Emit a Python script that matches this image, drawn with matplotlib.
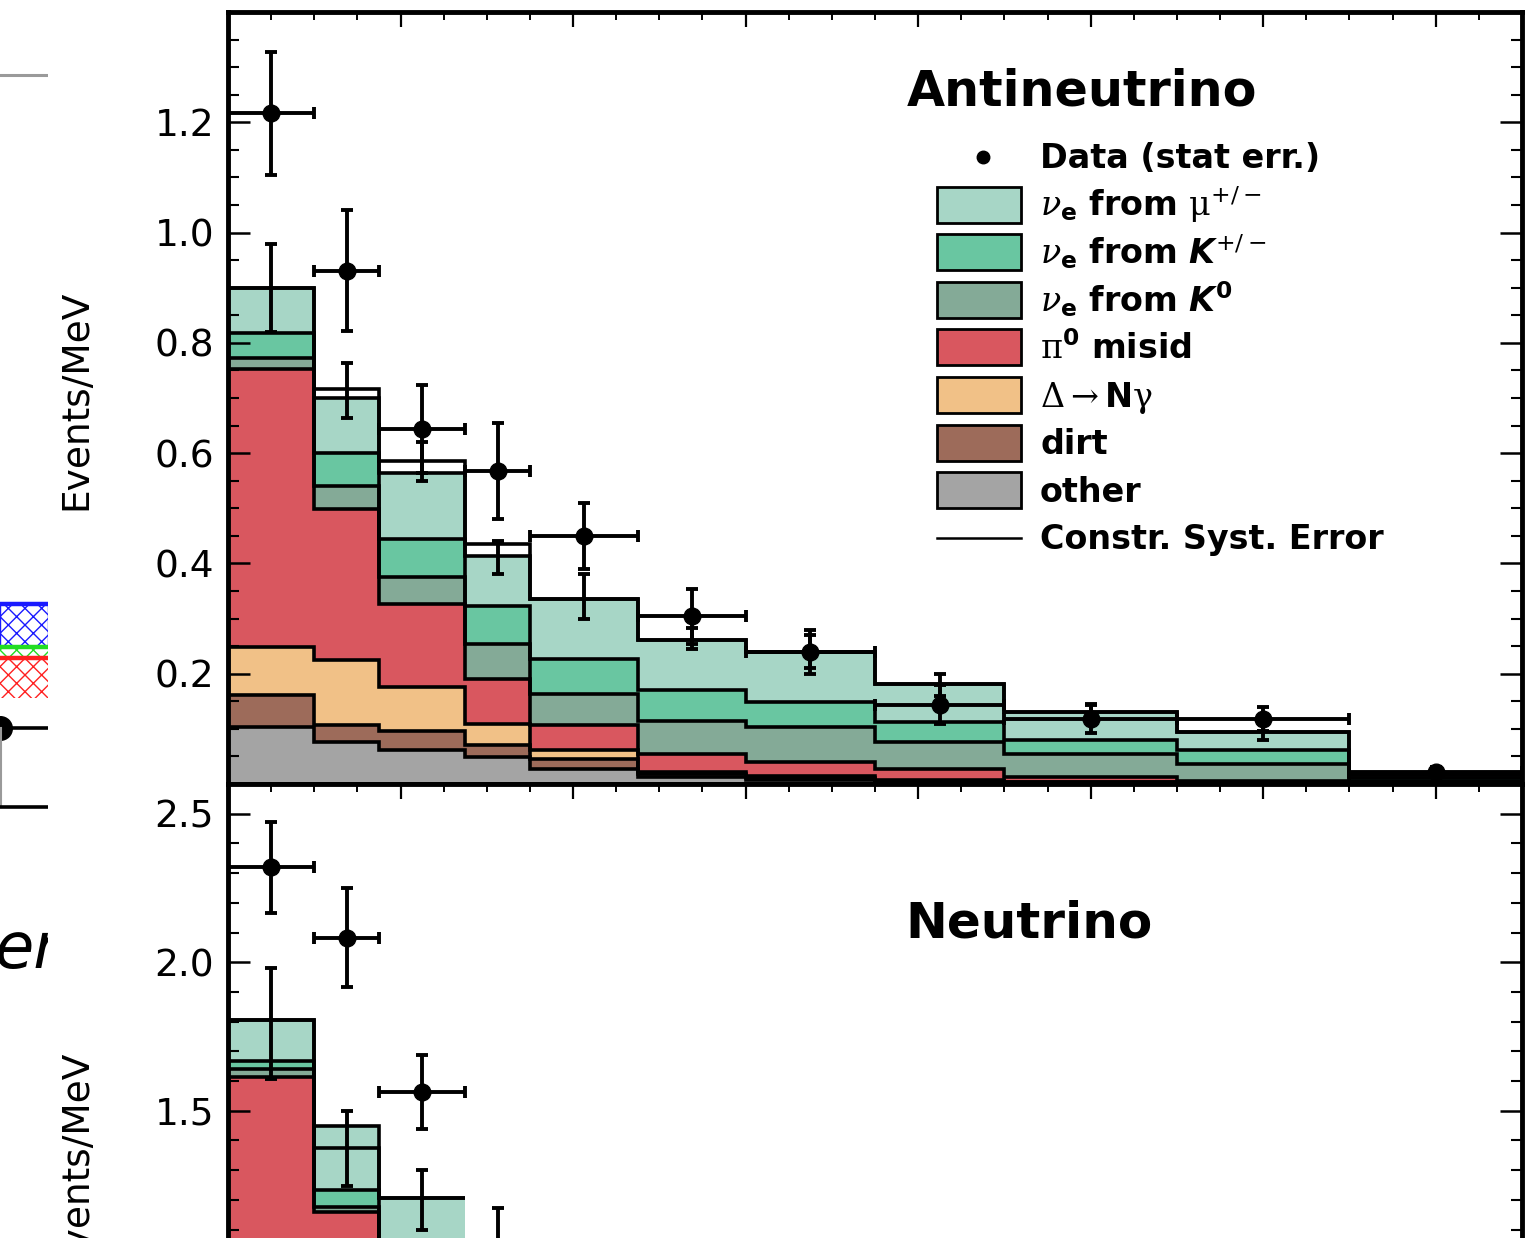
import numpy as np
import matplotlib

matplotlib.use("Agg")
import matplotlib.pyplot as plt
from matplotlib.ticker import MultipleLocator, FixedLocator, FormatStrFormatter
from matplotlib.patches import Rectangle
from matplotlib.lines import Line2D

W, H = 1527, 1238

# E_QE binning (MeV); last bin is drawn compressed up to the axis end
edges = [200, 300, 375, 475, 550, 675, 800, 950, 1100, 1300, 1500, 3000]
data_x = [250, 337.5, 425, 512.5, 612.5, 737.5, 875, 1025, 1200, 1400, 1600]
data_xerr = [50, 37.5, 50, 37.5, 62.5, 62.5, 75, 75, 100, 100, 100]

# antineutrino mode, events/MeV per component
anti_other = [0.104, 0.076, 0.062, 0.049, 0.027, 0.012, 0.008, 0.004, 0.002, 0.001, 0.001]
anti_dirt = [0.058, 0.031, 0.034, 0.022, 0.018, 0.006, 0.003, 0.002, 0.001, 0.001, 0.000]
anti_delta = [0.087, 0.118, 0.080, 0.038, 0.017, 0.004, 0.003, 0.002, 0.001, 0.001, 0.000]
anti_pi0 = [0.504, 0.273, 0.151, 0.082, 0.045, 0.033, 0.026, 0.019, 0.009, 0.003, 0.001]
anti_k0 = [0.020, 0.042, 0.048, 0.062, 0.057, 0.060, 0.064, 0.049, 0.042, 0.030, 0.004]
anti_kpm = [0.045, 0.060, 0.070, 0.069, 0.063, 0.056, 0.045, 0.037, 0.025, 0.026, 0.004]
anti_mu = [0.082, 0.100, 0.119, 0.091, 0.109, 0.091, 0.091, 0.069, 0.051, 0.033, 0.006]
anti_constr = [0.900, 0.716, 0.585, 0.435, 0.336, 0.262, 0.240, 0.182, 0.131, 0.095, 0.016]
anti_syst_lo = [0.82, 0.664, 0.549, 0.38, 0.30, 0.244, 0.21, 0.16, 0.118, 0.08, 0.012]
anti_syst_hi = [0.98, 0.764, 0.62, 0.44, 0.38, 0.282, 0.27, 0.20, 0.145, 0.11, 0.020]
anti_data = [1.216, 0.931, 0.644, 0.567, 0.449, 0.304, 0.240, 0.144, 0.118, 0.118, 0.022]
anti_stat = [0.112, 0.110, 0.080, 0.087, 0.060, 0.050, 0.040, 0.035, 0.025, 0.022, 0.008]

# neutrino mode (only the first bins are inside the picture)
nu_edges = edges[:4]
nu_pi0_and_below = [1.613, 1.160, 0.950]
nu_k0 = [0.027, 0.017, 0.050]
nu_kpm = [0.027, 0.056, 0.060]
nu_mu = [0.140, 0.214, 0.147]
nu_constr = [1.807, 1.373, 1.207]
nu_syst_lo = [1.607, 1.247, 1.10]
nu_syst_hi = [1.98, 1.50, 1.30]
nu_data_x = data_x[:4]
nu_data_xerr = data_xerr[:4]
nu_data = [2.32, 2.083, 1.563, 1.04]
nu_stat = [0.153, 0.167, 0.125, 0.133]

labels = ["Data (stat err.)",
          r"$\nu_\mathbf{e}$ from $\mathrm{\mu}^{+/-}$",
          r"$\nu_\mathbf{e}$ from $\mathbfit{K}^{+/-}$",
          r"$\nu_\mathbf{e}$ from $\mathbfit{K}^{\mathbf{0}}$",
          r"$\mathrm{\pi}^{\mathbf{0}}$ misid",
          r"$\mathrm{\Delta}\rightarrow$N$\mathrm{\gamma}$",
          "dirt", "other", "Constr. Syst. Error"]
c_mu, c_kpm, c_k0 = "#a7d6c6", "#69c6a1", "#84aa97"
c_pi0, c_delta, c_dirt, c_other = "#d9575f", "#f1c187", "#9d6b5a", "#a4a4a4"
legend_colors = [c_mu, c_kpm, c_k0, c_pi0, c_delta, c_dirt, c_other]

plt.rcParams["font.family"] = ["DejaVu Sans"]
plt.rcParams["mathtext.fontset"] = "custom"
plt.rcParams["mathtext.rm"] = "DejaVu Serif"
plt.rcParams["mathtext.it"] = "DejaVu Serif:italic"
plt.rcParams["mathtext.bf"] = "DejaVu Sans:bold"
plt.rcParams["mathtext.bfit"] = "DejaVu Sans:italic:bold"
plt.rcParams["hatch.linewidth"] = 1.0


def frac(x0, y0, x1, y1):
    return [x0 / W, 1 - y1 / H, (x1 - x0) / W, (y1 - y0) / H]


def draw_stack(ax, e, layers, colors, constr):
    bottom = np.zeros(len(layers[0]))
    tops = []
    for vals, col in zip(layers, colors):
        top = bottom + np.asarray(vals)
        ax.stairs(top, e, baseline=bottom, fill=True, color=col, lw=0, zorder=1)
        tops.append(top)
        bottom = top
    for top in tops:
        ax.stairs(top, e, baseline=None, color="k", lw=2.6, zorder=2)
    ax.stairs(constr, e, baseline=None, color="k", lw=2.6, zorder=2)


def draw_points(ax, x, xerr, y, yerr, lo, hi):
    lo, hi = np.asarray(lo), np.asarray(hi)
    ax.errorbar(x[:len(lo)], (lo + hi) / 2, yerr=(hi - lo) / 2, fmt="none", ecolor="k",
                elinewidth=2.8, capsize=4, capthick=2.8, zorder=3)
    ax.errorbar(x, y, xerr=xerr, yerr=yerr, fmt="o", color="k", ms=12,
                elinewidth=2.8, capsize=4, capthick=2.8, zorder=4)


def style_axis(ax, majors, minor_step, ylim):
    ax.set_xlim(200, 1700)
    ax.set_ylim(*ylim)
    ax.xaxis.set_major_locator(MultipleLocator(200))
    ax.xaxis.set_minor_locator(MultipleLocator(50))
    ax.yaxis.set_major_locator(FixedLocator(majors))
    ax.yaxis.set_minor_locator(MultipleLocator(minor_step))
    ax.yaxis.set_major_formatter(FormatStrFormatter("%.1f"))
    ax.tick_params(axis="y", which="major", direction="in", length=16, width=1.8,
                   labelsize=27, pad=10, left=True, right=True)
    ax.tick_params(axis="y", which="minor", direction="in", length=8, width=1.5,
                   left=True, right=True)
    ax.tick_params(axis="x", which="major", direction="in", length=11, width=1.6,
                   top=True, bottom=False, labelbottom=False)
    ax.tick_params(axis="x", which="minor", direction="in", length=6, width=1.4,
                   top=True, bottom=False)
    for sp in ax.spines.values():
        sp.set_linewidth(3.5)


fig = plt.figure(figsize=(W / 100, H / 100), dpi=100)

ax_top = fig.add_axes(frac(228, 12, 1522, 784))
draw_stack(ax_top, edges,
           [anti_other, anti_dirt, anti_delta, anti_pi0, anti_k0, anti_kpm, anti_mu],
           [c_other, c_dirt, c_delta, c_pi0, c_k0, c_kpm, c_mu], anti_constr)
draw_points(ax_top, data_x, data_xerr, anti_data, anti_stat, anti_syst_lo, anti_syst_hi)
style_axis(ax_top, [0.2, 0.4, 0.6, 0.8, 1.0, 1.2], 0.05, (0, 1.4))

ax_bot = fig.add_axes(frac(228, 784, 1522, 1238))
draw_stack(ax_bot, nu_edges, [nu_pi0_and_below, nu_k0, nu_kpm, nu_mu],
           [c_pi0, c_k0, c_kpm, c_mu], nu_constr)
draw_points(ax_bot, nu_data_x, nu_data_xerr, nu_data, nu_stat, nu_syst_lo, nu_syst_hi)
style_axis(ax_bot, [1.5, 2.0, 2.5], 0.1, (2.6 - 454 / 297, 2.6))
ax_bot.spines["bottom"].set_visible(False)

fig.text(76 / W, 1 - 400 / H, "Events/MeV", rotation=90, ha="center", va="center", fontsize=27)
fig.text(76 / W, 1 - 1160 / H, "Events/MeV", rotation=90, ha="center", va="center", fontsize=27)
fig.text(907 / W, 1 - 105 / H, "Antineutrino", fontsize=35.5, fontweight="bold", va="baseline")
fig.text(905 / W, 1 - 937 / H, "Neutrino", fontsize=36, fontweight="bold", va="baseline")

# legend
row_y = [157 + 47.6 * i for i in range(len(labels))]
for i, (lab, y) in enumerate(zip(labels, row_y)):
    fig.text(1040 / W, 1 - (y + 11.5) / H, lab, fontsize=24, fontweight="bold", va="baseline")
    if i == 0:
        fig.add_artist(Line2D([983 / W], [1 - y / H], marker="o", ms=9, color="k",
                              transform=fig.transFigure))
    elif i == len(labels) - 1:
        fig.add_artist(Line2D([937 / W, 1021 / W], [1 - y / H] * 2, lw=1.8, color="k",
                              transform=fig.transFigure))
    else:
        fig.add_artist(Rectangle((937 / W, 1 - (y + 18) / H), 84 / W, 36 / H,
                                 facecolor=legend_colors[i - 1], edgecolor="k", lw=2.0,
                                 transform=fig.transFigure))

# clipped pieces of the neighbouring figure on the left
ax_l = fig.add_axes(frac(0, 0, 48, 1238))
ax_l.set_xlim(0, 48)
ax_l.set_ylim(1238, 0)
ax_l.axis("off")
ax_l.plot([0, 48], [75, 75], color="#9a9a9a", lw=2.2)
ax_l.add_patch(Rectangle((0, 603), 48, 44, facecolor="none", edgecolor="#1a1aff", hatch="xx", lw=1))
ax_l.plot([0, 48], [604, 604], color="#1a1aff", lw=3.2)
ax_l.add_patch(Rectangle((0, 647), 48, 10, facecolor="none", edgecolor="#22dd22", hatch="xx", lw=0))
ax_l.plot([0, 48], [647, 647], color="#22dd22", lw=3.2)
ax_l.add_patch(Rectangle((0, 658), 48, 40, facecolor="none", edgecolor="#ff2020", hatch="xx", lw=0))
ax_l.plot([0, 48], [658, 658], color="#ff2020", lw=3.2)
ax_l.plot([0, 48], [728, 728], color="k", lw=2.6)
ax_l.plot([0], [728], "o", color="k", ms=17, clip_on=True)
ax_l.plot([1, 1], [728, 807], color="#9a9a9a", lw=1.5)
ax_l.plot([0, 48], [807, 807], color="k", lw=2.6)
ax_l.text(60, 968, "er", fontsize=46, style="italic", ha="right", va="baseline", clip_on=True)

fig.savefig("out.png", dpi=100)
